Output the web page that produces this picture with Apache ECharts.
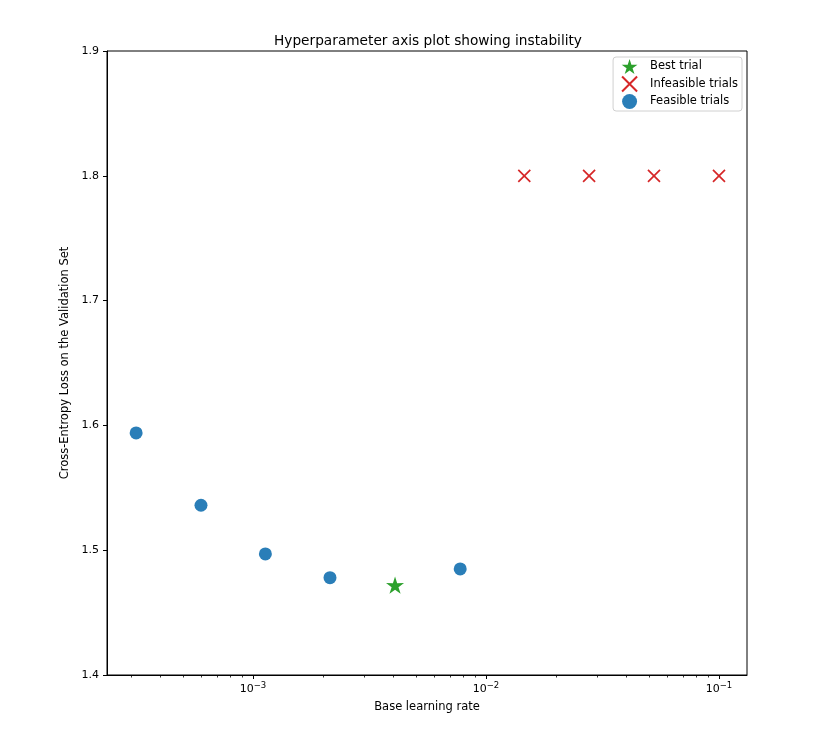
<!DOCTYPE html>
<html>
<head>
<meta charset="utf-8">
<script src="https://cdn.jsdelivr.net/npm/echarts@6/dist/echarts.min.js"></script>
<style>html,body{margin:0;padding:0;background:#fff}#c{width:830px;height:730px}</style>
</head>
<body>
<div id="c"></div>
<script>
// ---- data ----
const feasibleLR = [3.15e-4, 5.98e-4, 1.13e-3, 2.14e-3, 7.75e-3];
const feasibleLoss = [1.594, 1.536, 1.497, 1.478, 1.485];
const bestLR = [4.07e-3];
const bestLoss = [1.472];
const infeasibleLR = [1.46e-2, 2.77e-2, 5.26e-2, 1.0e-1];
const infeasibleLoss = [1.8, 1.8, 1.8, 1.8];
const minorTickValues = [3e-4,4e-4,5e-4,6e-4,7e-4,8e-4,9e-4,2e-3,3e-3,4e-3,5e-3,6e-3,7e-3,8e-3,9e-3,2e-2,3e-2,4e-2,5e-2,6e-2,7e-2,8e-2,9e-2];
const yTicks = [1.4, 1.5, 1.6, 1.7, 1.8, 1.9];

const FONT = 'DejaVu Sans';
const STAR = 'path://M50,0L61.17,34.63L97.55,34.55L68.07,55.87L79.39,90.45L50,69L20.61,90.45L31.93,55.87L2.45,34.55L38.83,34.63Z';
const XMARK = 'path://M0,0L10,10M10,0L0,10';

const zip = (a, b) => a.map((v, i) => [v, b[i]]);

const chart = echarts.init(document.getElementById('c'), null, {renderer: 'canvas'});
const option = {
  animation: false,
  backgroundColor: '#fff',
  title: {
    text: 'Hyperparameter axis plot showing instability',
    left: 423, top: 29, textAlign: 'center',
    textStyle: {fontFamily: FONT, fontSize: 13.7, fontWeight: 'normal', color: '#000'}
  },
  legend: {
    orient: 'vertical', right: 88, top: 57,
    padding: [2, 4, 2, 8], itemGap: 1.5, itemWidth: 17, itemHeight: 15,
    borderColor: '#d0d0d0', borderWidth: 1, borderRadius: 3, backgroundColor: 'rgba(255,255,255,0.8)',
    textStyle: {fontFamily: FONT, fontSize: 11.5, color: '#000', padding: [0, 0, 0, 7]},
    data: ['Best trial', 'Infeasible trials', 'Feasible trials']
  },
  grid: {left: 107, right: 83, top: 51, bottom: 55, show: true, borderColor: '#000', borderWidth: 1, backgroundColor: 'transparent'},
  xAxis: {
    type: 'log', logBase: 10, min: 2.362e-4, max: 0.1319,
    name: 'Base learning rate', nameLocation: 'middle', nameGap: 26,
    nameTextStyle: {fontFamily: FONT, fontSize: 11.5, color: '#000'},
    axisLine: {show: true, lineStyle: {color: '#000', width: 1}},
    axisTick: {show: true, length: 4, lineStyle: {color: '#000'}},
    splitLine: {show: false},
    axisLabel: {
      showMinLabel: false, showMaxLabel: false, margin: 6,
      formatter: v => '{b|10}{s|−' + Math.abs(Math.round(Math.log10(v))) + '}',
      rich: {
        b: {fontFamily: FONT, fontSize: 11, color: '#000', verticalAlign: 'bottom'},
        s: {fontFamily: FONT, fontSize: 8.5, color: '#000', verticalAlign: 'bottom', padding: [0, 0, 5, 0]}
      }
    }
  },
  yAxis: {
    type: 'value', min: 1.4, max: 1.9, interval: 0.1,
    name: 'Cross-Entropy Loss on the Validation Set', nameLocation: 'middle', nameGap: 32,
    nameTextStyle: {fontFamily: FONT, fontSize: 11.5, color: '#000'},
    axisLine: {show: true, lineStyle: {color: '#000', width: 1}},
    axisTick: {show: true, length: 4, lineStyle: {color: '#000'}},
    splitLine: {show: false},
    axisLabel: {fontFamily: FONT, fontSize: 11, color: '#000', margin: 8, formatter: v => v.toFixed(1)}
  },
  series: [
    {
      name: 'Best trial', type: 'scatter', symbol: STAR, symbolKeepAspect: true, symbolSize: 18,
      itemStyle: {color: '#2ca02c', opacity: 1}, data: zip(bestLR, bestLoss), z: 5
    },
    {
      name: 'Infeasible trials', type: 'scatter', symbol: XMARK, symbolSize: 12,
      itemStyle: {color: 'rgba(0,0,0,0)', borderColor: '#d62728', borderWidth: 1.7, opacity: 1},
      data: zip(infeasibleLR, infeasibleLoss), z: 4
    },
    {
      name: 'Feasible trials', type: 'scatter', symbol: 'circle', symbolSize: 13,
      itemStyle: {color: '#1f77b4', opacity: 0.95}, data: zip(feasibleLR, feasibleLoss), z: 3
    },
    {
      name: 'minorTicks', type: 'custom', silent: true, clip: false, legendHoverLink: false,
      data: minorTickValues.map(v => [v, 1.4]),
      renderItem: (params, api) => {
        const p = api.coord([api.value(0), api.value(1)]);
        return {type: 'line', shape: {x1: Math.round(p[0]) + 0.5, y1: p[1], x2: Math.round(p[0]) + 0.5, y2: p[1] + 2.5},
                style: {stroke: '#000', lineWidth: 0.8}};
      }
    }
  ]
};
chart.setOption(option);
</script>
</body>
</html>
